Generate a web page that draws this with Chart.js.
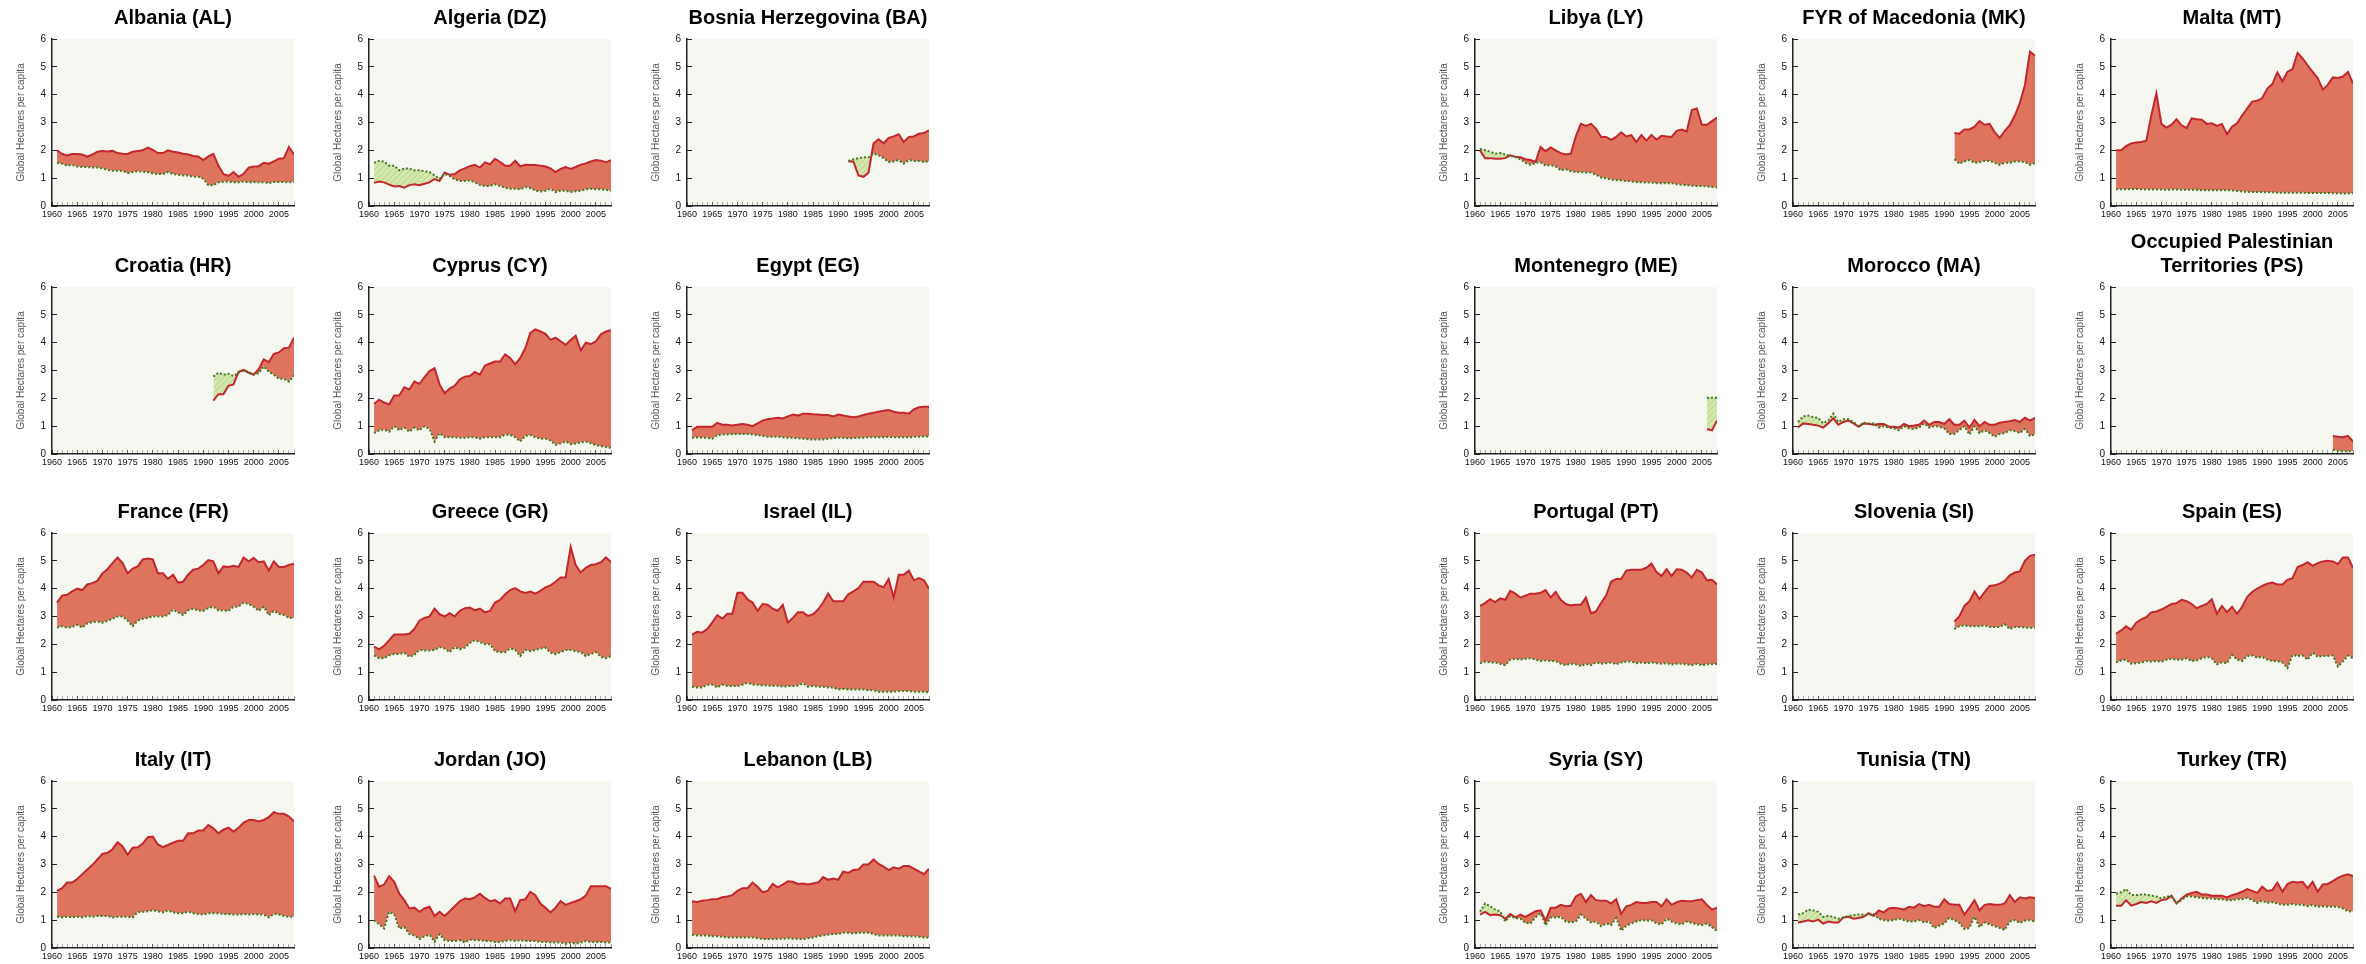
<!DOCTYPE html>
<html>
<head>
<meta charset="utf-8">
<script src="https://cdn.jsdelivr.net/npm/chart.js@4.4.1/dist/chart.umd.min.js"></script>
<style>
  html, body { margin: 0; padding: 0; background: #ffffff; width: 2366px; height: 964px; overflow: hidden; }
  #board { position: relative; width: 2366px; height: 964px; }
  #board canvas { position: absolute; }
</style>
</head>
<body>
<div id="board"></div>
<script>
// Ecological footprint vs. biocapacity, global hectares per capita, 1961-2008
const YEAR_MIN = 1960;
const YEAR_MAX = 2008;
const Y_MAX = 6;
const Y_AXIS_TITLE = 'Global Hectares per capita';

const AL_START = 1961;
const AL_FOOTPRINT = [2.0,1.87,1.82,1.87,1.87,1.85,1.77,1.85,1.95,1.98, 1.96,1.98,1.9,1.88,1.87,1.95,1.98,2.0,2.1,2.02, 1.9,1.9,2.0,1.95,1.92,1.88,1.85,1.8,1.78,1.65, 1.78,1.87,1.45,1.15,1.08,1.22,1.05,1.15,1.38,1.42, 1.43,1.55,1.52,1.6,1.7,1.72,2.12,1.85];
const AL_BIOCAPACITY = [1.55,1.52,1.45,1.48,1.42,1.4,1.4,1.38,1.38,1.35, 1.3,1.27,1.27,1.26,1.18,1.22,1.25,1.23,1.22,1.17, 1.15,1.15,1.22,1.15,1.12,1.1,1.1,1.05,1.05,0.98, 0.75,0.75,0.85,0.87,0.88,0.85,0.85,0.88,0.85,0.86, 0.85,0.85,0.82,0.86,0.86,0.86,0.85,0.87];

const DZ_START = 1961;
const DZ_FOOTPRINT = [0.83,0.88,0.85,0.77,0.7,0.72,0.66,0.75,0.78,0.75, 0.8,0.85,0.97,0.9,1.2,1.12,1.15,1.28,1.35,1.43, 1.48,1.38,1.57,1.5,1.7,1.58,1.45,1.45,1.63,1.42, 1.48,1.47,1.47,1.45,1.42,1.35,1.22,1.33,1.4,1.33, 1.4,1.48,1.53,1.6,1.65,1.63,1.57,1.65];
const DZ_BIOCAPACITY = [1.55,1.62,1.6,1.45,1.45,1.28,1.35,1.35,1.28,1.28, 1.25,1.22,1.1,0.98,1.15,1.08,0.95,0.9,0.9,0.92, 0.85,0.75,0.72,0.72,0.78,0.72,0.65,0.62,0.62,0.6, 0.68,0.65,0.55,0.52,0.55,0.62,0.5,0.55,0.55,0.5, 0.53,0.55,0.6,0.62,0.6,0.6,0.58,0.55];

const BA_START = 1992;
const BA_FOOTPRINT = [1.6,1.6,1.1,1.05,1.2,2.25,2.4,2.25,2.45,2.5,2.58,2.3,2.48,2.5,2.6,2.62,2.72];
const BA_BIOCAPACITY = [1.62,1.68,1.72,1.75,1.75,1.88,1.82,1.72,1.58,1.6,1.65,1.52,1.65,1.62,1.62,1.58,1.6];

const HR_START = 1992;
const HR_FOOTPRINT = [1.92,2.15,2.15,2.45,2.5,2.95,3.02,2.92,2.85,3.05,3.4,3.3,3.6,3.65,3.8,3.82,4.18];
const HR_BIOCAPACITY = [2.78,2.92,2.85,2.88,2.8,2.92,3.0,2.95,2.85,2.9,3.15,2.95,2.85,2.7,2.7,2.6,2.82];

const CY_START = 1961;
const CY_FOOTPRINT = [1.8,1.95,1.85,1.78,2.1,2.1,2.4,2.32,2.6,2.52, 2.75,2.98,3.08,2.5,2.18,2.35,2.45,2.68,2.78,2.8, 2.95,2.85,3.18,3.25,3.32,3.32,3.58,3.45,3.22,3.45, 3.8,4.35,4.48,4.4,4.32,4.1,4.18,4.05,3.92,4.1, 4.25,3.72,4.0,3.95,4.05,4.3,4.4,4.45];
const CY_BIOCAPACITY = [0.75,0.85,0.88,0.8,1.0,0.85,0.95,0.8,0.95,0.85, 1.0,0.9,0.45,0.75,0.6,0.6,0.6,0.58,0.58,0.6, 0.6,0.55,0.6,0.6,0.6,0.6,0.7,0.68,0.6,0.45, 0.65,0.68,0.6,0.55,0.55,0.48,0.33,0.38,0.45,0.35, 0.38,0.42,0.45,0.38,0.32,0.28,0.25,0.22];

const EG_START = 1961;
const EG_FOOTPRINT = [0.85,0.98,0.98,0.98,0.98,1.12,1.05,1.05,1.02,1.05, 1.08,1.05,1.0,1.1,1.2,1.25,1.28,1.3,1.28,1.35, 1.42,1.38,1.45,1.45,1.43,1.42,1.4,1.4,1.35,1.42, 1.38,1.35,1.32,1.35,1.4,1.45,1.48,1.52,1.55,1.58, 1.52,1.48,1.48,1.45,1.6,1.68,1.7,1.7];
const EG_BIOCAPACITY = [0.58,0.6,0.58,0.58,0.55,0.68,0.7,0.7,0.72,0.72, 0.72,0.72,0.7,0.68,0.65,0.62,0.62,0.62,0.6,0.58, 0.58,0.57,0.55,0.53,0.52,0.52,0.52,0.55,0.57,0.58, 0.58,0.57,0.57,0.58,0.58,0.6,0.6,0.6,0.6,0.62, 0.6,0.6,0.6,0.6,0.62,0.62,0.63,0.63];

const FR_START = 1961;
const FR_FOOTPRINT = [3.5,3.75,3.78,3.9,4.0,3.95,4.15,4.2,4.28,4.55, 4.7,4.92,5.12,4.92,4.55,4.72,4.8,5.05,5.08,5.05, 4.55,4.55,4.35,4.5,4.22,4.25,4.5,4.68,4.72,4.85, 5.03,4.98,4.55,4.8,4.78,4.82,4.78,5.12,4.98,5.1, 4.95,4.98,4.65,4.98,4.78,4.78,4.85,4.9];
const FR_BIOCAPACITY = [2.6,2.65,2.6,2.62,2.7,2.6,2.75,2.8,2.82,2.78, 2.85,2.92,3.0,3.0,2.85,2.65,2.85,2.92,2.95,3.0, 3.0,3.0,3.05,3.25,3.15,3.05,3.22,3.28,3.22,3.2, 3.3,3.35,3.22,3.22,3.2,3.35,3.35,3.5,3.45,3.35, 3.2,3.35,3.05,3.2,3.1,3.05,2.95,2.95];

const GR_START = 1961;
const GR_FOOTPRINT = [1.92,1.82,1.95,2.15,2.35,2.35,2.35,2.38,2.55,2.85, 2.95,3.0,3.28,3.08,3.0,3.12,3.0,3.2,3.3,3.32, 3.22,3.28,3.15,3.2,3.5,3.6,3.8,3.95,4.02,3.9, 3.85,3.9,3.82,3.92,4.05,4.12,4.25,4.4,4.4,5.5, 4.85,4.58,4.75,4.85,4.88,4.95,5.12,4.95];
const GR_BIOCAPACITY = [1.6,1.5,1.5,1.6,1.65,1.65,1.7,1.55,1.62,1.8, 1.78,1.78,1.8,1.9,1.85,1.72,1.9,1.82,1.88,2.05, 2.15,2.08,2.0,2.0,1.75,1.72,1.72,1.85,1.8,1.58, 1.8,1.75,1.8,1.85,1.88,1.7,1.65,1.72,1.8,1.8, 1.75,1.72,1.58,1.65,1.72,1.55,1.5,1.58];

const IL_START = 1961;
const IL_FOOTPRINT = [2.35,2.45,2.42,2.55,2.78,3.05,2.92,3.1,3.1,3.85, 3.85,3.62,3.5,3.2,3.45,3.42,3.28,3.2,3.42,2.78, 2.95,3.15,3.15,3.02,3.08,3.25,3.5,3.82,3.55,3.55, 3.55,3.8,3.9,4.02,4.25,4.25,4.25,4.12,4.05,4.35, 3.68,4.5,4.5,4.65,4.3,4.38,4.3,4.0];
const IL_BIOCAPACITY = [0.48,0.45,0.45,0.55,0.55,0.45,0.55,0.5,0.5,0.5, 0.55,0.62,0.55,0.55,0.52,0.52,0.5,0.52,0.48,0.5, 0.5,0.52,0.6,0.48,0.5,0.48,0.48,0.45,0.45,0.38, 0.4,0.38,0.38,0.38,0.38,0.35,0.35,0.3,0.3,0.3, 0.3,0.32,0.32,0.32,0.3,0.3,0.3,0.27];

const IT_START = 1961;
const IT_FOOTPRINT = [2.05,2.15,2.35,2.35,2.48,2.65,2.82,2.98,3.18,3.38, 3.42,3.55,3.8,3.65,3.35,3.6,3.62,3.75,3.98,4.0, 3.72,3.62,3.7,3.78,3.85,3.85,4.12,4.12,4.22,4.22, 4.42,4.3,4.12,4.25,4.32,4.18,4.32,4.5,4.6,4.6, 4.55,4.6,4.7,4.88,4.82,4.82,4.72,4.55];
const IT_BIOCAPACITY = [1.12,1.1,1.12,1.1,1.12,1.1,1.15,1.12,1.15,1.15, 1.15,1.1,1.12,1.12,1.12,1.1,1.28,1.3,1.32,1.35, 1.32,1.28,1.35,1.28,1.25,1.25,1.3,1.25,1.22,1.2, 1.25,1.25,1.25,1.22,1.22,1.2,1.2,1.22,1.2,1.22, 1.2,1.2,1.1,1.22,1.2,1.15,1.12,1.12];

const JO_START = 1961;
const JO_FOOTPRINT = [2.6,2.2,2.28,2.58,2.38,1.95,1.72,1.42,1.45,1.3, 1.42,1.48,1.15,1.3,1.15,1.32,1.5,1.68,1.78,1.75, 1.82,1.95,1.8,1.68,1.72,1.6,1.78,1.78,1.32,1.72, 1.75,2.02,1.9,1.6,1.45,1.28,1.45,1.68,1.55,1.62, 1.68,1.75,1.88,2.22,2.22,2.22,2.22,2.12];
const JO_BIOCAPACITY = [1.0,0.85,0.7,1.3,1.2,0.7,0.75,0.5,0.45,0.32, 0.42,0.48,0.22,0.5,0.28,0.25,0.25,0.28,0.2,0.3, 0.28,0.28,0.25,0.25,0.22,0.22,0.25,0.28,0.25,0.28, 0.25,0.25,0.25,0.22,0.22,0.2,0.2,0.2,0.15,0.2, 0.15,0.2,0.25,0.22,0.22,0.22,0.2,0.2];

const LB_START = 1961;
const LB_FOOTPRINT = [1.68,1.65,1.7,1.72,1.75,1.75,1.82,1.85,1.9,2.05, 2.15,2.15,2.35,2.2,2.0,2.05,2.3,2.18,2.28,2.4, 2.38,2.3,2.32,2.28,2.32,2.35,2.55,2.45,2.5,2.45, 2.75,2.7,2.8,2.82,3.0,3.0,3.18,3.02,2.92,2.8, 2.9,2.85,2.95,2.95,2.85,2.75,2.65,2.85];
const LB_BIOCAPACITY = [0.48,0.45,0.45,0.45,0.42,0.42,0.4,0.38,0.38,0.38, 0.38,0.38,0.38,0.35,0.32,0.32,0.32,0.33,0.33,0.35, 0.33,0.33,0.32,0.35,0.38,0.42,0.45,0.48,0.5,0.5, 0.55,0.55,0.52,0.55,0.55,0.55,0.5,0.45,0.45,0.45, 0.45,0.45,0.42,0.42,0.42,0.4,0.38,0.38];

const LY_START = 1961;
const LY_FOOTPRINT = [2.0,1.72,1.72,1.7,1.7,1.72,1.82,1.77,1.75,1.68, 1.65,1.58,2.12,1.97,2.1,2.0,1.9,1.85,1.88,2.5, 2.95,2.88,2.95,2.78,2.48,2.48,2.38,2.48,2.65,2.5, 2.55,2.3,2.55,2.35,2.55,2.38,2.52,2.5,2.48,2.7, 2.75,2.68,3.45,3.5,2.92,2.92,3.05,3.18];
const LY_BIOCAPACITY = [2.05,2.0,1.95,1.88,1.9,1.85,1.8,1.75,1.68,1.55, 1.48,1.55,1.57,1.45,1.47,1.42,1.28,1.32,1.25,1.22, 1.22,1.2,1.2,1.12,1.02,1.0,0.95,0.93,0.92,0.9, 0.88,0.86,0.85,0.84,0.84,0.82,0.82,0.82,0.82,0.78, 0.76,0.75,0.73,0.72,0.72,0.7,0.68,0.66];

const MK_START = 1992;
const MK_FOOTPRINT = [2.62,2.6,2.75,2.75,2.85,3.05,2.92,2.95,2.65,2.45,2.7,2.9,3.25,3.7,4.35,5.55,5.4];
const MK_BIOCAPACITY = [1.68,1.52,1.6,1.65,1.55,1.57,1.62,1.62,1.55,1.48,1.55,1.55,1.6,1.6,1.58,1.48,1.55];

const MT_START = 1961;
const MT_FOOTPRINT = [2.0,2.0,2.15,2.25,2.28,2.3,2.35,3.25,4.05,2.95, 2.82,2.92,3.12,2.9,2.8,3.15,3.12,3.1,2.95,2.97, 2.88,2.95,2.58,2.85,2.97,3.25,3.5,3.75,3.78,3.88, 4.22,4.38,4.8,4.48,4.82,4.92,5.5,5.3,5.05,4.82, 4.6,4.18,4.35,4.62,4.6,4.65,4.82,4.4];
const MT_BIOCAPACITY = [0.6,0.6,0.6,0.61,0.61,0.6,0.59,0.59,0.59,0.59, 0.58,0.59,0.59,0.58,0.58,0.58,0.58,0.57,0.57,0.57, 0.57,0.57,0.57,0.56,0.54,0.52,0.51,0.5,0.5,0.5, 0.49,0.49,0.48,0.48,0.48,0.48,0.48,0.48,0.47,0.47, 0.47,0.47,0.47,0.46,0.46,0.45,0.45,0.46];

const ME_START = 2006;
const ME_FOOTPRINT = [0.9,0.85,1.2];
const ME_BIOCAPACITY = [2.02,2.02,2.02];

const MA_START = 1961;
const MA_FOOTPRINT = [0.95,1.1,1.08,1.05,1.02,0.95,1.1,1.28,1.05,1.15, 1.2,1.1,0.98,1.1,1.08,1.05,1.08,1.08,0.98,0.98, 0.95,1.08,1.0,1.02,1.05,1.2,1.05,1.15,1.15,1.08, 1.25,1.05,1.05,1.2,0.95,1.22,1.0,1.15,1.05,1.05, 1.12,1.15,1.18,1.22,1.15,1.3,1.2,1.3];
const MA_BIOCAPACITY = [1.15,1.35,1.38,1.32,1.3,1.1,1.2,1.45,1.15,1.25, 1.25,1.15,1.0,1.12,1.1,1.1,0.95,1.0,0.95,0.92, 0.85,1.0,0.92,0.9,0.95,1.1,0.95,1.0,0.98,0.92, 0.72,0.72,0.85,1.0,0.7,1.0,0.75,0.85,0.75,0.62, 0.72,0.75,0.85,0.82,0.75,0.9,0.65,0.7];

const PS_START = 2004;
const PS_FOOTPRINT = [0.65,0.62,0.6,0.65,0.45];
const PS_BIOCAPACITY = [0.15,0.12,0.1,0.1,0.1];

const PT_START = 1961;
const PT_FOOTPRINT = [3.38,3.48,3.62,3.52,3.65,3.6,3.92,3.82,3.68,3.75, 3.82,3.82,3.85,3.95,3.68,3.88,3.6,3.45,3.4,3.42, 3.42,3.68,3.12,3.18,3.48,3.75,4.25,4.35,4.35,4.65, 4.68,4.68,4.68,4.75,4.9,4.6,4.45,4.7,4.45,4.7, 4.68,4.58,4.4,4.68,4.58,4.3,4.32,4.15];
const PT_BIOCAPACITY = [1.32,1.38,1.35,1.35,1.3,1.25,1.45,1.48,1.45,1.48, 1.5,1.45,1.4,1.42,1.4,1.4,1.3,1.25,1.3,1.28, 1.22,1.3,1.25,1.35,1.3,1.32,1.35,1.28,1.35,1.38, 1.38,1.32,1.35,1.32,1.35,1.32,1.3,1.32,1.28,1.3, 1.3,1.28,1.25,1.3,1.25,1.28,1.28,1.3];

const SI_START = 1992;
const SI_FOOTPRINT = [2.82,3.0,3.38,3.55,3.9,3.62,3.88,4.1,4.12,4.18,4.28,4.48,4.58,4.62,5.0,5.18,5.22];
const SI_BIOCAPACITY = [2.55,2.65,2.68,2.65,2.65,2.65,2.68,2.62,2.62,2.62,2.72,2.55,2.62,2.62,2.6,2.6,2.6];

const ES_START = 1961;
const ES_FOOTPRINT = [2.38,2.5,2.65,2.52,2.78,2.9,2.98,3.15,3.18,3.25, 3.35,3.45,3.48,3.6,3.55,3.45,3.3,3.38,3.45,3.62, 3.1,3.38,3.15,3.35,3.1,3.35,3.7,3.88,4.0,4.1, 4.18,4.22,4.15,4.15,4.32,4.38,4.78,4.85,4.95,4.82, 4.92,4.98,5.0,4.98,4.88,5.12,5.12,4.75];
const ES_BIOCAPACITY = [1.35,1.42,1.45,1.3,1.32,1.35,1.4,1.38,1.4,1.38, 1.45,1.48,1.45,1.45,1.5,1.4,1.42,1.5,1.55,1.5, 1.28,1.35,1.32,1.62,1.45,1.4,1.58,1.6,1.52,1.55, 1.45,1.4,1.4,1.35,1.15,1.62,1.58,1.6,1.45,1.7, 1.55,1.58,1.58,1.6,1.2,1.38,1.6,1.5];

const SY_START = 1961;
const SY_FOOTPRINT = [1.2,1.3,1.18,1.2,1.18,1.05,1.22,1.1,1.2,1.12, 1.22,1.32,1.35,0.98,1.45,1.45,1.55,1.5,1.52,1.85, 1.95,1.65,1.9,1.72,1.7,1.7,1.6,1.75,1.22,1.5, 1.55,1.65,1.62,1.62,1.65,1.65,1.5,1.75,1.55,1.65, 1.7,1.68,1.68,1.72,1.75,1.55,1.38,1.45];
const SY_BIOCAPACITY = [1.3,1.6,1.5,1.38,1.32,0.95,1.15,1.08,1.05,0.9, 0.88,1.1,1.25,0.82,1.1,1.1,1.12,0.95,0.92,0.95, 1.2,1.05,0.92,0.95,0.78,0.88,0.82,1.08,0.62,0.8, 0.88,0.95,1.0,0.98,1.0,0.88,0.85,1.05,0.95,0.88, 0.85,0.95,0.9,0.85,0.82,0.88,0.75,0.6];

const TN_START = 1961;
const TN_FOOTPRINT = [0.92,0.95,1.0,0.95,1.02,0.88,0.95,0.92,0.92,1.1, 1.12,1.05,1.08,1.12,1.25,1.15,1.35,1.28,1.42,1.45, 1.42,1.38,1.48,1.45,1.58,1.5,1.55,1.48,1.48,1.75, 1.58,1.55,1.55,1.2,1.45,1.72,1.35,1.55,1.58,1.55, 1.55,1.6,1.9,1.65,1.82,1.78,1.82,1.8];
const TN_BIOCAPACITY = [1.2,1.25,1.38,1.35,1.3,1.12,1.15,1.12,1.05,1.1, 1.15,1.18,1.2,1.2,1.18,1.22,1.05,1.0,0.98,1.0, 1.05,1.0,0.95,0.95,1.0,0.92,0.95,0.72,0.8,0.88, 1.08,1.0,0.9,0.68,0.72,1.12,0.75,0.92,0.85,0.78, 0.72,0.65,0.95,1.0,0.9,0.98,1.0,0.95];

const TR_START = 1961;
const TR_FOOTPRINT = [1.52,1.52,1.72,1.52,1.58,1.65,1.62,1.68,1.62,1.72, 1.75,1.88,1.6,1.78,1.92,1.98,2.02,1.92,1.92,1.88, 1.88,1.88,1.82,1.9,1.95,2.02,2.12,2.05,1.98,2.2, 2.05,2.08,2.35,2.02,2.3,2.38,2.35,2.38,2.15,2.38, 2.02,2.28,2.3,2.4,2.52,2.6,2.65,2.58];
const TR_BIOCAPACITY = [1.95,2.0,2.12,1.9,1.9,1.92,1.92,1.88,1.85,1.78, 1.85,1.85,1.62,1.72,1.85,1.85,1.82,1.8,1.78,1.78, 1.75,1.75,1.72,1.72,1.75,1.75,1.8,1.72,1.62,1.7, 1.62,1.65,1.6,1.55,1.55,1.58,1.55,1.55,1.5,1.55, 1.48,1.5,1.48,1.48,1.48,1.42,1.32,1.3];

// Panel list: title, grid slot (column 0-5, row 0-3) and the series for each country
const PANELS = [
  { title: 'Albania (AL)', col: 0, row: 0, start: AL_START, footprint: AL_FOOTPRINT, biocapacity: AL_BIOCAPACITY },
  { title: 'Algeria (DZ)', col: 1, row: 0, start: DZ_START, footprint: DZ_FOOTPRINT, biocapacity: DZ_BIOCAPACITY },
  { title: 'Bosnia Herzegovina (BA)', col: 2, row: 0, start: BA_START, footprint: BA_FOOTPRINT, biocapacity: BA_BIOCAPACITY },
  { title: 'Croatia (HR)', col: 0, row: 1, start: HR_START, footprint: HR_FOOTPRINT, biocapacity: HR_BIOCAPACITY },
  { title: 'Cyprus (CY)', col: 1, row: 1, start: CY_START, footprint: CY_FOOTPRINT, biocapacity: CY_BIOCAPACITY },
  { title: 'Egypt (EG)', col: 2, row: 1, start: EG_START, footprint: EG_FOOTPRINT, biocapacity: EG_BIOCAPACITY },
  { title: 'France (FR)', col: 0, row: 2, start: FR_START, footprint: FR_FOOTPRINT, biocapacity: FR_BIOCAPACITY },
  { title: 'Greece (GR)', col: 1, row: 2, start: GR_START, footprint: GR_FOOTPRINT, biocapacity: GR_BIOCAPACITY },
  { title: 'Israel (IL)', col: 2, row: 2, start: IL_START, footprint: IL_FOOTPRINT, biocapacity: IL_BIOCAPACITY },
  { title: 'Italy (IT)', col: 0, row: 3, start: IT_START, footprint: IT_FOOTPRINT, biocapacity: IT_BIOCAPACITY },
  { title: 'Jordan (JO)', col: 1, row: 3, start: JO_START, footprint: JO_FOOTPRINT, biocapacity: JO_BIOCAPACITY },
  { title: 'Lebanon (LB)', col: 2, row: 3, start: LB_START, footprint: LB_FOOTPRINT, biocapacity: LB_BIOCAPACITY },
  { title: 'Libya (LY)', col: 3, row: 0, start: LY_START, footprint: LY_FOOTPRINT, biocapacity: LY_BIOCAPACITY },
  { title: 'FYR of Macedonia (MK)', col: 4, row: 0, start: MK_START, footprint: MK_FOOTPRINT, biocapacity: MK_BIOCAPACITY },
  { title: 'Malta (MT)', col: 5, row: 0, start: MT_START, footprint: MT_FOOTPRINT, biocapacity: MT_BIOCAPACITY },
  { title: 'Montenegro (ME)', col: 3, row: 1, start: ME_START, footprint: ME_FOOTPRINT, biocapacity: ME_BIOCAPACITY },
  { title: 'Morocco (MA)', col: 4, row: 1, start: MA_START, footprint: MA_FOOTPRINT, biocapacity: MA_BIOCAPACITY },
  { title: ['Occupied Palestinian', 'Territories (PS)'], col: 5, row: 1, start: PS_START, footprint: PS_FOOTPRINT, biocapacity: PS_BIOCAPACITY },
  { title: 'Portugal (PT)', col: 3, row: 2, start: PT_START, footprint: PT_FOOTPRINT, biocapacity: PT_BIOCAPACITY },
  { title: 'Slovenia (SI)', col: 4, row: 2, start: SI_START, footprint: SI_FOOTPRINT, biocapacity: SI_BIOCAPACITY },
  { title: 'Spain (ES)', col: 5, row: 2, start: ES_START, footprint: ES_FOOTPRINT, biocapacity: ES_BIOCAPACITY },
  { title: 'Syria (SY)', col: 3, row: 3, start: SY_START, footprint: SY_FOOTPRINT, biocapacity: SY_BIOCAPACITY },
  { title: 'Tunisia (TN)', col: 4, row: 3, start: TN_START, footprint: TN_FOOTPRINT, biocapacity: TN_BIOCAPACITY },
  { title: 'Turkey (TR)', col: 5, row: 3, start: TR_START, footprint: TR_FOOTPRINT, biocapacity: TR_BIOCAPACITY }
];

// ---- layout of the small multiples ----
const COLUMN_PLOT_LEFT = [52, 369, 687, 1475, 1793, 2111];
const ROW_PLOT_TOP = [39, 287, 533, 781];
const PLOT_W = 242, PLOT_H = 167;
const AXIS_W = 52, TITLE_H = 70, XAXIS_H = 22, RIGHT_PAD = 8;

const FONT = "'Liberation Sans', Arial, Helvetica, sans-serif";
Chart.defaults.font.family = FONT;

const COLORS = {
  plotBg: '#f7f7f2',
  footprintLine: '#c3262e',
  deficitFill: '#de745e',
  biocapacityLine: '#3f7a24',
  axis: '#222222'
};

// light green hatch used where biocapacity exceeds the footprint
function makeReserveHatch() {
  const tile = document.createElement('canvas');
  tile.width = 6; tile.height = 6;
  const g = tile.getContext('2d');
  g.fillStyle = '#d2e6ad';
  g.fillRect(0, 0, 6, 6);
  g.strokeStyle = '#b6d386';
  g.lineWidth = 1;
  g.beginPath();
  g.moveTo(0, 6); g.lineTo(6, 0);
  g.moveTo(-1, 1); g.lineTo(1, -1);
  g.moveTo(5, 7); g.lineTo(7, 5);
  g.stroke();
  return g.createPattern(tile, 'repeat');
}
const RESERVE_HATCH = makeReserveHatch();

const plotBackground = {
  id: 'plotBackground',
  beforeDraw(chart) {
    const { ctx, chartArea: a } = chart;
    ctx.save();
    ctx.fillStyle = COLORS.plotBg;
    ctx.fillRect(a.left, a.top, a.right - a.left, a.bottom - a.top);
    ctx.restore();
  }
};

function toPoints(start, values) {
  return values.map((v, i) => ({ x: start + i, y: v }));
}

const board = document.getElementById('board');

PANELS.forEach(p => {
  const canvas = document.createElement('canvas');
  const w = AXIS_W + PLOT_W + RIGHT_PAD;
  const h = TITLE_H + PLOT_H + XAXIS_H;
  canvas.width = w; canvas.height = h;
  canvas.style.width = w + 'px'; canvas.style.height = h + 'px';
  canvas.style.left = (COLUMN_PLOT_LEFT[p.col] - AXIS_W) + 'px';
  canvas.style.top = (ROW_PLOT_TOP[p.row] - TITLE_H) + 'px';
  board.appendChild(canvas);

  const multiLine = Array.isArray(p.title);

  new Chart(canvas, {
    type: 'line',
    data: {
      datasets: [
        {
          label: 'Biocapacity',
          data: toPoints(p.start, p.biocapacity),
          borderColor: COLORS.biocapacityLine,
          borderWidth: 2,
          borderDash: [2, 2],
          pointRadius: 0,
          tension: 0,
          fill: false
        },
        {
          label: 'Ecological Footprint',
          data: toPoints(p.start, p.footprint),
          borderColor: COLORS.footprintLine,
          backgroundColor: COLORS.deficitFill,
          borderWidth: 2,
          pointRadius: 0,
          tension: 0,
          fill: { target: 0, above: COLORS.deficitFill, below: RESERVE_HATCH }
        }
      ]
    },
    options: {
      responsive: false,
      animation: false,
      devicePixelRatio: 1,
      events: [],
      layout: { padding: { left: 0, right: RIGHT_PAD, top: 0, bottom: 0 } },
      plugins: {
        legend: { display: false },
        tooltip: { enabled: false },
        title: {
          display: true,
          text: p.title,
          fullSize: false,
          color: '#000000',
          font: { size: 20, weight: 'bold', lineHeight: 1.2 },
          padding: multiLine ? { top: 13, bottom: 9 } : { top: 37, bottom: 9 }
        }
      },
      scales: {
        x: {
          type: 'linear',
          min: YEAR_MIN,
          max: YEAR_MAX,
          afterFit: s => { s.height = XAXIS_H; },
          ticks: {
            stepSize: 1,
            autoSkip: false,
            maxRotation: 0,
            minRotation: 0,
            padding: 7,
            color: '#111111',
            font: { size: 9 },
            callback: v => (v % 5 === 0 ? String(v) : '')
          },
          grid: {
            drawOnChartArea: false,
            tickLength: -4,
            tickWidth: 1,
            tickColor: c => (c.tick && c.tick.value % 5 === 0 ? '#555555' : '#aaaaaa')
          },
          border: { display: true, color: COLORS.axis, width: 1.5 }
        },
        y: {
          min: 0,
          max: Y_MAX,
          afterFit: s => { s.width = AXIS_W; },
          ticks: {
            stepSize: 1,
            padding: 11,
            color: '#111111',
            font: { size: 10 }
          },
          grid: {
            drawOnChartArea: false,
            tickLength: -5,
            tickWidth: 1,
            tickColor: COLORS.axis
          },
          border: { display: true, color: COLORS.axis, width: 1.5 },
          title: {
            display: true,
            text: Y_AXIS_TITLE,
            color: '#555555',
            font: { size: 10 },
            padding: { top: 15, bottom: 0 }
          }
        }
      }
    },
    plugins: [plotBackground]
  });
});
</script>
</body>
</html>
